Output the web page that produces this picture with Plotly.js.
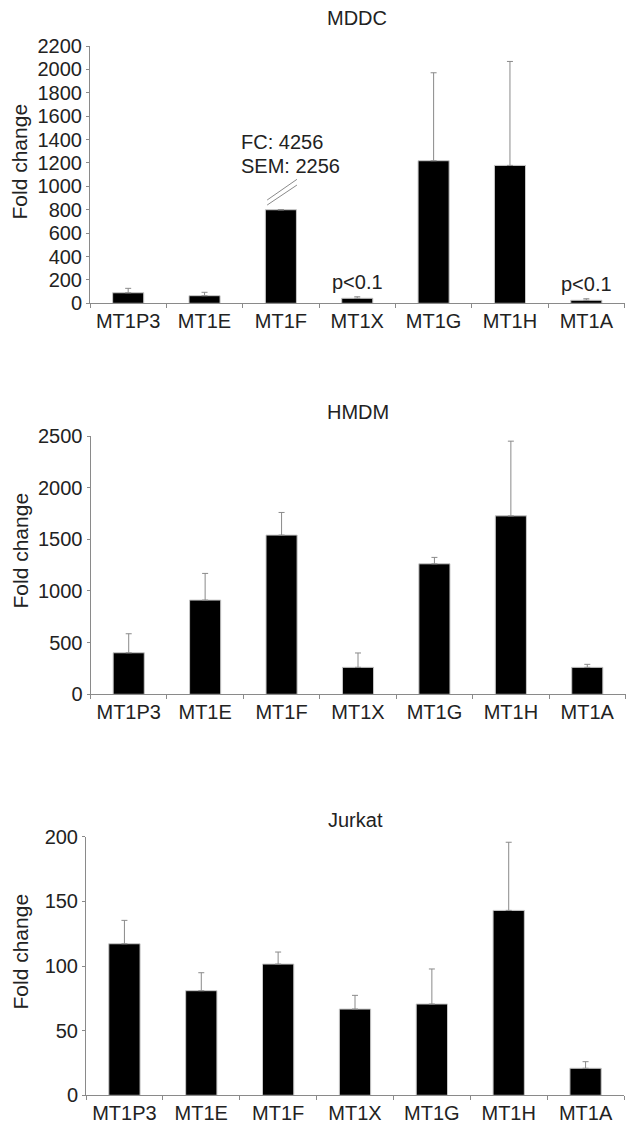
<!DOCTYPE html>
<html>
<head>
<meta charset="utf-8">
<script src="https://cdn.plot.ly/plotly-3.0.1.min.js"></script>
<style>body{margin:0;padding:0;background:#fff;} #chart{width:626px;height:1130px;}</style>
</head>
<body>
<div id="chart"></div>
<script>
// ---- data ----
const categories = ["MT1P3", "MT1E", "MT1F", "MT1X", "MT1G", "MT1H", "MT1A"];
const panelTitles = ["MDDC", "HMDM", "Jurkat"];
const yTitle = "Fold change";

const mddcValues = [90, 65, 800, 43, 1219, 1179, 26];
const mddcSem    = [38, 29, null, 13, 752, 889, 13];
const hmdmValues = [402, 912, 1541, 261, 1263, 1727, 261];
const hmdmSem    = [184, 258, 219, 139, 62, 723, 29];
const jurkatValues = [117.2, 80.9, 101.5, 66.7, 70.6, 143.0, 20.9];
const jurkatSem    = [18.1, 13.9, 9.3, 10.6, 27.1, 52.7, 5.1];

const mddcTrueFC = 4256;      // MT1F actual fold change (bar truncated)
const mddcTrueSEM = 2256;
const pValueLabel = "p<0.1";
const pValueCats = ["MT1X", "MT1A"];

const yRanges = [[0, 2200], [0, 2500], [0, 200]];
const yDticks = [200, 500, 50];

// ---- style ----
const FONT = "Liberation Sans, Arial, sans-serif";
const FS = 20;
const TXT = "#222222";
const AX = "#8a8a8a";
const W = 626, H = 1130;

// panel geometry (pixels)
const geo = [
  {x0: 90, x1: 624.5, yTop: 46, yBot: 303.3, titleY: 18, yTitleY: 162},
  {x0: 90.5, x1: 625.5, yTop: 436, yBot: 694.3, titleY: 412, yTitleY: 551},
  {x0: 86, x1: 624, yTop: 836.7, yBot: 1095.3, titleY: 820, yTitleY: 952}
];

const series = [[mddcValues, mddcSem], [hmdmValues, hmdmSem], [jurkatValues, jurkatSem]];

const traces = [];
const layout = {
  width: W, height: H,
  margin: {l: 0, r: 0, t: 0, b: 0},
  paper_bgcolor: "#fff", plot_bgcolor: "rgba(0,0,0,0)",
  showlegend: false,
  bargap: 0.593,
  font: {family: FONT, size: FS, color: TXT},
  annotations: [],
  shapes: []
};

series.forEach(([vals, sem], i) => {
  const xa = i === 0 ? "x" : "x" + (i + 1);
  const ya = i === 0 ? "y" : "y" + (i + 1);
  const xk = i === 0 ? "xaxis" : "xaxis" + (i + 1);
  const yk = i === 0 ? "yaxis" : "yaxis" + (i + 1);
  const g = geo[i];
  traces.push({
    type: "bar", x: categories, y: vals, xaxis: xa, yaxis: ya,
    marker: {color: "#000000", line: {color: "#c8c8c8", width: 1}},
    error_y: {type: "data", array: sem, arrayminus: sem.map(() => 0), symmetric: false,
              color: AX, thickness: 1, width: 3, visible: true},
    hoverinfo: "skip"
  });
  layout[xk] = {
    domain: [g.x0 / W, g.x1 / W], anchor: ya, type: "category",
    showline: true, linecolor: AX, linewidth: 1,
    ticks: "outside", tickson: "boundaries", ticklen: 4, tickcolor: AX,
    tickangle: 0, automargin: false,
    showgrid: false, zeroline: false, fixedrange: true,
    tickfont: {family: FONT, size: FS, color: TXT}
  };
  layout[yk] = {
    domain: [1 - g.yBot / H, 1 - g.yTop / H], anchor: xa,
    range: yRanges[i], dtick: yDticks[i], tick0: 0,
    showline: true, linecolor: AX, linewidth: 1,
    ticks: "outside", ticklen: 3, tickcolor: AX, automargin: false,
    showgrid: false, zeroline: false, fixedrange: true,
    tickfont: {family: FONT, size: FS, color: TXT}
  };
  layout.annotations.push({
    xref: "paper", yref: "paper", x: (g.x0 + g.x1) / 2 / W, y: 1 - g.titleY / H,
    text: panelTitles[i], showarrow: false, xanchor: "center", yanchor: "middle",
    font: {family: FONT, size: FS, color: TXT}
  });
  layout.annotations.push({
    xref: "paper", yref: "paper", x: 19.5 / W, y: 1 - g.yTitleY / H,
    text: yTitle, showarrow: false, textangle: -90, xanchor: "center", yanchor: "middle",
    font: {family: FONT, size: 21, color: TXT}
  });
});

// MDDC annotations: truncated MT1F bar
const fIdx = categories.indexOf("MT1F");
[["FC: " + mddcTrueFC, 68], ["SEM: " + mddcTrueSEM, 44]].forEach(([t, dy]) => {
  layout.annotations.push({
    xref: "x", yref: "y", x: fIdx, y: mddcValues[fIdx], xshift: -42, yshift: dy,
    text: t, showarrow: false, xanchor: "left", yanchor: "middle", align: "left",
    font: {family: FONT, size: FS, color: TXT}
  });
});
// break marks (double slash) above the truncated bar
[[40, 211], [83, 260]].forEach(([a, b]) => {
  layout.shapes.push({
    type: "line", xref: "x", yref: "y",
    x0: fIdx - 0.18, x1: fIdx + 0.21,
    y0: mddcValues[fIdx] + a, y1: mddcValues[fIdx] + b,
    line: {color: AX, width: 1}
  });
});
// p-value labels
pValueCats.forEach(c => {
  const k = categories.indexOf(c);
  layout.annotations.push({
    xref: "x", yref: "y", x: k, y: mddcValues[k] + mddcSem[k], yshift: 2,
    text: pValueLabel, showarrow: false, xanchor: "center", yanchor: "bottom",
    font: {family: FONT, size: FS, color: TXT}
  });
});

Plotly.newPlot("chart", traces, layout, {staticPlot: true, displayModeBar: false});
</script>
</body>
</html>
